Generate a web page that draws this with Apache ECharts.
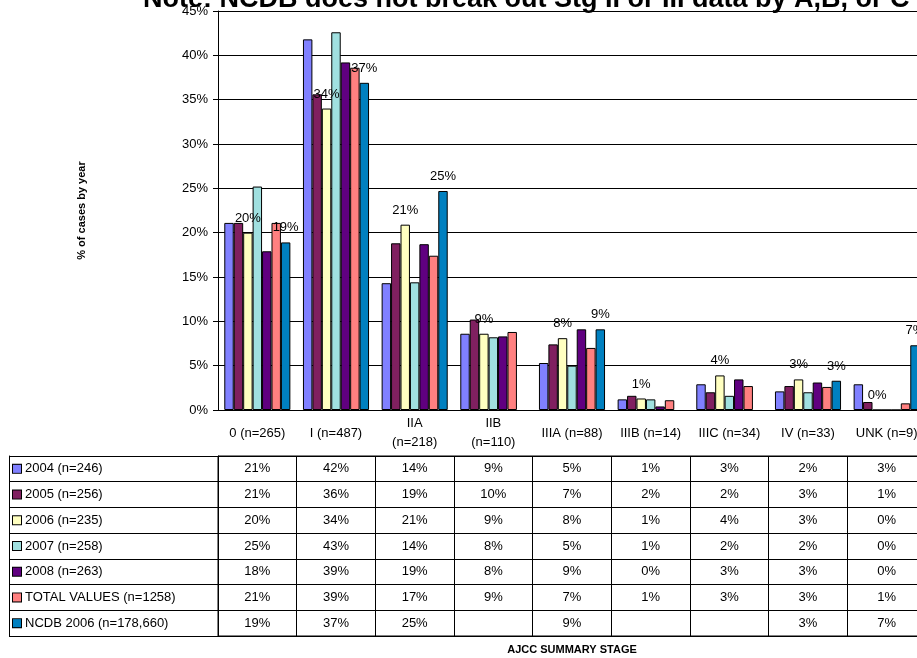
<!DOCTYPE html>
<html>
<head>
<meta charset="utf-8">
<script src="https://cdn.jsdelivr.net/npm/echarts@6/dist/echarts.min.js"></script>
<style>
  html, body { margin: 0; padding: 0; overflow: hidden; background: #fff; }
  #chart { width: 930px; height: 658px; }
</style>
</head>
<body>
<div id="chart"></div>
<script>
// stage categories (x axis)
const categories = ['0 (n=265)', 'I (n=487)', 'IIA\n(n=218)', 'IIB\n(n=110)', 'IIIA (n=88)', 'IIIB (n=14)', 'IIIC (n=34)', 'IV (n=33)', 'UNK (n=9)']

// % of cases by year
const rowNames = ['2004 (n=246)', '2005 (n=256)', '2006 (n=235)', '2007 (n=258)', '2008 (n=263)', 'TOTAL VALUES (n=1258)', 'NCDB 2006 (n=178,660)']
const v2004 = [21.1, 41.8, 14.3, 8.6, 5.3, 1.2, 2.9, 2.1, 2.9]
const v2005 = [21.1, 35.6, 18.8, 10.2, 7.4, 1.6, 2.0, 2.7, 0.9]
const v2006 = [20.0, 34.0, 20.9, 8.6, 8.1, 1.3, 3.9, 3.45, 0]
const v2007 = [25.2, 42.6, 14.4, 8.2, 5.0, 1.2, 1.6, 2.0, 0]
const v2008 = [17.9, 39.2, 18.7, 8.3, 9.1, 0.4, 3.45, 3.1, 0]
const vTotal = [21.1, 38.6, 17.4, 8.8, 7.0, 1.1, 2.7, 2.6, 0.75]
const vNcdb = [18.9, 36.9, 24.7, null, 9.1, null, null, 3.3, 7.3]

const yTicks = [0, 5, 10, 15, 20, 25, 30, 35, 40, 45]

const seriesValues = [v2004, v2005, v2006, v2007, v2008, vTotal, vNcdb]
const colors = ['#8080ff', '#802060', '#ffffc0', '#a0e0e0', '#600080', '#ff8080', '#0080c0']
const labelled = [false, false, true, false, false, false, true]

const font = 'Liberation Sans, Arial, sans-serif'
const pct = v => Math.round(v) + '%'

const chartInstance = echarts.init(document.getElementById('chart'))

// bars
const barSeries = seriesValues.map((vals, i) => ({
  name: rowNames[i],
  type: 'bar',
  xAxisIndex: 0,
  yAxisIndex: 0,
  barGap: 0,
  barCategoryGap: '16%',
  itemStyle: { color: colors[i], borderColor: '#000', borderWidth: 1 },
  label: {
    show: labelled[i],
    position: 'top',
    distance: 8,
    fontFamily: font,
    fontSize: 13,
    color: '#000',
    formatter: p => pct(p.value)
  },
  data: vals
}))

// data table cells
const tableSeries = seriesValues.map((vals, r) => ({
  type: 'scatter',
  xAxisIndex: 1,
  yAxisIndex: 1,
  symbolSize: 0,
  silent: true,
  itemStyle: { opacity: 1 },
  label: {
    show: true,
    position: 'inside',
    fontFamily: font,
    fontSize: 13,
    color: '#000',
    opacity: 1,
    textBorderWidth: 0,
    formatter: p => pct(p.value[2])
  },
  data: vals.map((v, c) => v == null ? null : [c, r, v]).filter(d => d)
}))

const rich = { t: { fontFamily: font, fontSize: 13, color: '#000', padding: [0, 0, 0, 4] } }
colors.forEach((c, i) => {
  rich['k' + i] = { width: 8, height: 8, backgroundColor: c, borderColor: '#000', borderWidth: 1 }
})

const option = {
  animation: false,
  title: {
    text: 'Note: NCDB does not break out Stg II or III data by A,B, or C',
    left: 138,
    top: -19,
    textStyle: { fontFamily: font, fontSize: 27, fontWeight: 'bold', color: '#000' }
  },
  grid: [
    { left: 218, right: 4, top: 11, height: 399, outerBoundsMode: 'none' },
    { left: 218, right: 4, top: 456, height: 180, outerBoundsMode: 'none', show: true, borderColor: '#000', borderWidth: 1 }
  ],
  xAxis: [
    {
      gridIndex: 0,
      type: 'category',
      data: categories,
      name: 'AJCC SUMMARY STAGE',
      nameLocation: 'middle',
      nameGap: 234,
      nameTextStyle: { fontFamily: font, fontSize: 11, fontWeight: 'bold', color: '#000' },
      axisLine: { lineStyle: { color: '#000' } },
      axisTick: { length: 46, lineStyle: { color: '#000' } },
      axisLabel: {
        interval: 0,
        margin: 23,
        verticalAlign: 'middle',
        lineHeight: 19,
        fontFamily: font,
        fontSize: 13,
        color: '#000'
      }
    },
    {
      gridIndex: 1,
      type: 'category',
      data: categories,
      axisLine: { show: false },
      axisTick: { show: false },
      axisLabel: { show: false },
      splitLine: { show: true, lineStyle: { color: '#000' } }
    }
  ],
  yAxis: [
    {
      gridIndex: 0,
      type: 'value',
      min: yTicks[0],
      max: yTicks[yTicks.length - 1],
      interval: 5,
      name: '% of cases by year',
      nameLocation: 'middle',
      nameGap: 131,
      nameTextStyle: { fontFamily: font, fontSize: 11, fontWeight: 'bold', color: '#000' },
      axisLine: { show: true, lineStyle: { color: '#000' } },
      axisTick: { show: true, length: 5, lineStyle: { color: '#000' } },
      axisLabel: { margin: 10, fontFamily: font, fontSize: 13, color: '#000', formatter: '{value}%' },
      splitLine: { lineStyle: { color: '#000' } }
    },
    {
      gridIndex: 1,
      type: 'category',
      data: rowNames,
      inverse: true,
      axisLine: { show: true, lineStyle: { color: '#000' } },
      axisTick: { show: true, length: 209, lineStyle: { color: '#000' } },
      axisLabel: {
        margin: 205,
        align: 'left',
        formatter: (val, idx) => '{k' + idx + '|}{t|' + val + '}',
        rich: rich
      },
      splitLine: { show: true, lineStyle: { color: '#000' } }
    },
    {
      // left edge of the legend column
      gridIndex: 1,
      type: 'category',
      data: rowNames,
      position: 'left',
      offset: 209,
      axisLine: { show: true, lineStyle: { color: '#000' } },
      axisTick: { show: false },
      axisLabel: { show: false }
    }
  ],
  series: barSeries.concat(tableSeries)
}

chartInstance.setOption(option)
</script>
</body>
</html>
